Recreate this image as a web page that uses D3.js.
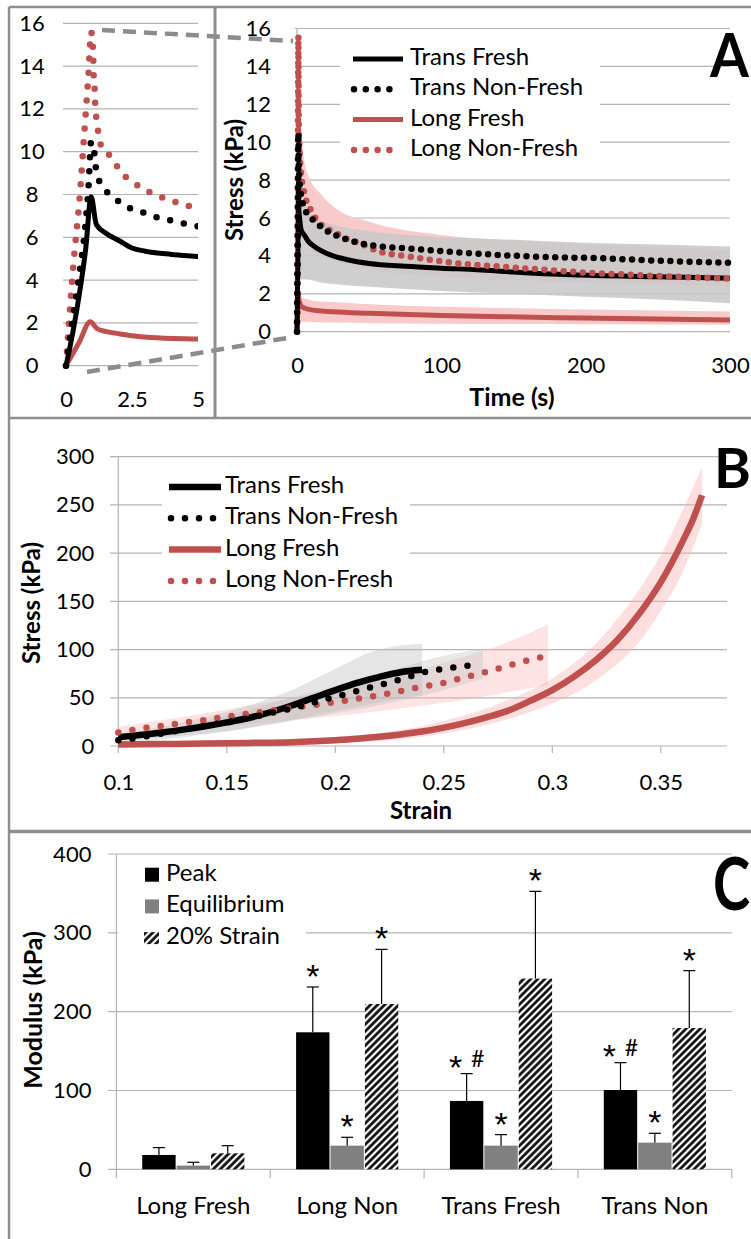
<!DOCTYPE html>
<html><head><meta charset="utf-8">
<script src="https://cdn.jsdelivr.net/npm/d3@7"></script>
<style>body{margin:0;background:#fff}svg{display:block}</style>
</head><body><svg id="c" width="751" height="1239"></svg>
<script>
// ---------------- DATA ----------------
// Panel A: stress relaxation, [time (s), stress (kPa)]
const transFreshA = [[0,0],[0.25,1.5],[0.5,3.3],[0.75,5.5],[0.95,7.9],[1.15,6.6],[1.5,6.2],[2,5.85],[2.5,5.5],[3,5.35],[4,5.2],[5,5.1],[8,4.75],[12,4.5],[16,4.3],[25,4.0],[35,3.8],[50,3.6],[75,3.45],[100,3.35],[125,3.27],[150,3.15],[190,3.0],[250,2.9],[300,2.82]];
const transNonFreshA = [[0,0],[0.27,2.3],[0.52,4.4],[0.73,6.5],[0.86,8.5],[0.95,10.47],[1.05,10.2],[1.11,9.45],[1.21,8.8],[1.5,8.2],[1.9,7.77],[2.36,7.4],[2.87,7.18],[3.37,6.96],[3.93,6.8],[4.44,6.65],[4.94,6.53],[8,6.15],[11.3,5.89],[18.2,5.45],[32,4.93],[50,4.58],[85,4.35],[120,4.14],[166,3.96],[212,3.87],[250,3.75],[300,3.63]];
const longFreshA = [[0,0],[0.5,1.1],[0.92,2.05],[1.17,1.74],[1.5,1.6],[1.93,1.51],[2.5,1.4],[3.19,1.32],[5,1.25],[10,1.15],[25,1.05],[50,0.97],[100,0.86],[143,0.79],[200,0.72],[250,0.67],[300,0.62]];
const longNonFreshA = [[0,0],[0.1,1.8],[0.3,5],[0.5,7.6],[0.7,11],[0.85,13.6],[0.95,15.6],[1.02,14.8],[1.05,13.5],[1.09,12.8],[1.11,12.1],[1.17,11.4],[1.24,10.75],[1.39,10.1],[1.75,9.72],[2.03,9.11],[2.45,8.66],[2.92,8.27],[3.4,7.98],[3.9,7.74],[4.42,7.55],[4.94,7.35],[10.2,6.33],[18.2,5.54],[25.2,5.28],[32.1,4.98],[43.7,4.66],[57.5,4.22],[78.3,3.96],[110.7,3.61],[143,3.43],[189,3.17],[235,2.99],[300,2.8]];
// Panel A standard-deviation bands
const bandTimeA = [1, 3, 7, 16, 27, 50, 100, 150, 200, 250, 300];
const transFreshUpperA = [9.5, 7.3, 6.5, 5.9, 5.6, 5.3, 5.0, 4.85, 4.7, 4.6, 4.5];
const transFreshLowerA = [3.0, 2.75, 2.75, 2.6, 2.5, 2.37, 2.15, 2.0, 1.85, 1.7, 1.5];
const longNonFreshUpperA = [16, 10.5, 8.4, 7.3, 6.5, 5.8, 5.1, 4.8, 4.6, 4.45, 4.3];
const longNonFreshLowerA = [9, 5.5, 4.6, 4.0, 3.7, 3.3, 2.9, 2.7, 2.6, 2.5, 2.4];
const longFreshUpperA = [2.0, 1.8, 1.7, 1.6, 1.55, 1.45, 1.32, 1.24, 1.17, 1.12, 1.07];
const longFreshLowerA = [0.5, 0.54, 0.52, 0.5, 0.48, 0.45, 0.42, 0.4, 0.39, 0.38, 0.37];
const yTicksA = [0, 2, 4, 6, 8, 10, 12, 14, 16];
const xTicksInset = [0, 2.5, 5];
const xTicksA = [0, 100, 200, 300];

// Panel B: stress-strain, [strain, stress (kPa)]
const transFreshB = [[0.10,9],[0.11,11.5],[0.12,14],[0.13,17],[0.14,20.5],[0.15,24.5],[0.16,29],[0.17,35],[0.18,42],[0.19,50],[0.20,58],[0.21,65.5],[0.22,71.5],[0.23,76.5],[0.24,79]];
const transNonFreshB = [[0.10,6],[0.11,9],[0.12,13],[0.13,17],[0.14,21],[0.15,25],[0.16,29],[0.17,34],[0.18,39],[0.19,45],[0.20,51],[0.21,57],[0.22,63],[0.23,69],[0.24,76],[0.25,80],[0.26,83],[0.265,85]];
const longFreshB = [[0.10,1.5],[0.12,2],[0.14,2.5],[0.16,3.2],[0.18,4],[0.20,6],[0.21,7.5],[0.22,9.5],[0.23,12],[0.24,15],[0.25,19],[0.26,24],[0.27,30],[0.28,37],[0.29,47],[0.30,58],[0.31,72],[0.32,89],[0.33,110],[0.34,137],[0.35,170],[0.36,212],[0.365,236],[0.369,260]];
const longNonFreshB = [[0.10,14],[0.11,18],[0.12,21],[0.13,24],[0.14,27],[0.15,30.5],[0.16,33.5],[0.17,36.5],[0.18,39.5],[0.19,42.5],[0.20,45.5],[0.21,49],[0.22,52.5],[0.23,57],[0.24,61.5],[0.25,65.5],[0.26,71.5],[0.27,77],[0.28,83.5],[0.29,89.5],[0.295,92]];
// Panel B bands: [strain, lower, upper]
const transFreshBandB = [[0.10,5,13],[0.12,9,20],[0.14,13,30],[0.16,19,42],[0.18,27,58],[0.20,36,80],[0.22,45,100],[0.24,53,106]];
const transNonFreshBandB = [[0.10,2,10],[0.14,12,26],[0.18,26,50],[0.20,34,62],[0.22,42,74],[0.24,52,88],[0.268,70,101]];
const longNonFreshBandB = [[0.10,8,20],[0.14,18,34],[0.18,27,50],[0.20,31,58],[0.22,36,68],[0.24,42,80],[0.26,48,93],[0.28,56,108],[0.298,63,126]];
const longFreshBandB = [[0.10,0.5,2.5],[0.15,1,5],[0.20,3,9],[0.25,13,26],[0.28,28,48],[0.30,44,70],[0.32,68,106],[0.34,108,162],[0.35,140,198],[0.36,180,244],[0.369,230,289]];
const xTicksB = [0.1, 0.15, 0.2, 0.25, 0.3, 0.35];
const yTicksB = [0, 50, 100, 150, 200, 250, 300];

// Panel C: moduli (kPa)
const groupsC = ["Long Fresh", "Long Non", "Trans Fresh", "Trans Non"];
const seriesC = ["Peak", "Equilibrium", "20% Strain"];
const peakMean = [18.2, 173.8, 86.7, 100.6];
const peakSD = [9.3, 57.5, 34.7, 34.7];
const eqMean = [4.7, 30, 30, 33.8];
const eqSD = [4.2, 10.6, 14, 11.9];
const strainMean = [20.3, 209.7, 241.9, 179.3];
const strainSD = [9.7, 69.3, 110.7, 72.7];
const peakSig = ["", "*", "* #", "* #"];
const eqSig = ["", "*", "*", "*"];
const strainSig = ["", "*", "*", "*"];
const yTicksC = [0, 100, 200, 300, 400];

// ---------------- STYLE ----------------
const FONT = "Lato, 'Liberation Sans', Arial, sans-serif";
const STARFONT = "'Liberation Sans', Arial, sans-serif";
const RED = "#c0504d";
const GRID = "#b4b4b4";
const BORDER = "#8e8e8e";

const svg = d3.select("#c");
const defs = svg.append("defs");
const pat = defs.append("pattern").attr("id","hatch").attr("patternUnits","userSpaceOnUse")
  .attr("width",5).attr("height",5).attr("patternTransform","rotate(45)");
pat.append("rect").attr("width",5).attr("height",5).attr("fill","#fff");
pat.append("line").attr("x1",2.5).attr("y1",0).attr("x2",2.5).attr("y2",5).attr("stroke","#000").attr("stroke-width",2.6);

function txt(g, x, y, s, size, opts={}) {
  return g.append("text").attr("x",x).attr("y",y).text(s)
    .attr("font-family",opts.font||FONT).attr("font-size",size)
    .attr("font-weight",opts.bold?"bold":"normal")
    .attr("text-anchor",opts.anchor||"start")
    .attr("dominant-baseline",opts.base||"auto")
    .attr("fill",opts.fill||"#000")
    .attr("transform",opts.rot?`rotate(-90,${x},${y})`:null);
}
function bigLetter(x, y, s, size, sy) {
  svg.append("text").attr("transform",`translate(${x},${y}) scale(1,${sy})`).text(s)
    .attr("font-family",FONT).attr("font-size",size).attr("font-weight","bold").attr("fill","#000");
}
function styleAxis(g, size) {
  g.select(".domain").remove();
  g.selectAll(".tick line").remove();
  g.attr("font-family",FONT).attr("font-size",size);
  g.selectAll("text").attr("fill","#000");
}

// ---------------- PANEL A (inset) ----------------
const xI = d3.scaleLinear().domain([0,5]).range([66,198]);
const yI = d3.scaleLinear().domain([0,16]).range([365.7,23.3]);
const gI = svg.append("g");
yTicksA.forEach(v => gI.append("line").attr("x1",63).attr("x2",198).attr("y1",yI(v)).attr("y2",yI(v)).attr("stroke",GRID).attr("stroke-width",1.2));
defs.append("clipPath").attr("id","clipI").append("rect").attr("x",60).attr("y",12).attr("width",138).attr("height",360);
const gIc = gI.append("g").attr("clip-path","url(#clipI)");
const lineI = d3.line().x(d=>xI(d[0])).y(d=>yI(d[1])).curve(d3.curveMonotoneX);
function drawSeries(g, line, data, color, dotted, w, gap) {
  g.append("path").attr("d",line(data)).attr("fill","none").attr("stroke",color)
   .attr("stroke-width",w).attr("stroke-linecap",dotted?"round":"butt").attr("stroke-linejoin","round")
   .attr("stroke-dasharray",dotted?`0 ${gap}`:null);
}
drawSeries(gIc, lineI, longFreshA, RED, false, 5);
drawSeries(gIc, lineI, longNonFreshA, RED, true, 6.5, 14);
drawSeries(gIc, lineI, transNonFreshA, "#000", true, 6.5, 14);
drawSeries(gIc, lineI, transFreshA, "#000", false, 5);
const axIy = gI.append("g").attr("transform","translate(66,0)").call(d3.axisLeft(yI).tickValues(yTicksA).tickSize(0));
styleAxis(axIy, 22);
axIy.selectAll("text").attr("text-anchor","middle").attr("x",-34);
const axIx = gI.append("g").attr("transform",`translate(0,${yI(0)})`).call(d3.axisBottom(xI).tickValues(xTicksInset).tickSize(0).tickPadding(26).tickFormat(d3.format("")));
styleAxis(axIx, 22);

// ---------------- PANEL A (main) ----------------
const xA = d3.scaleLinear().domain([0,300]).range([297,730]);
const yA = d3.scaleLinear().domain([0,16]).range([331.7,28.5]);
const gA = svg.append("g");
yTicksA.forEach(v => gA.append("line").attr("x1",295).attr("x2",730).attr("y1",yA(v)).attr("y2",yA(v)).attr("stroke",GRID).attr("stroke-width",1.2));
gA.append("line").attr("x1",297).attr("x2",297).attr("y1",yA(16)).attr("y2",yA(0)).attr("stroke",GRID).attr("stroke-width",1.2);
function bandA(upper, lower, color) {
  const pts = bandTimeA.map((t,i)=>[t, lower[i], upper[i]]);
  const area = d3.area().x(d=>xA(d[0])).y0(d=>yA(d[1])).y1(d=>yA(d[2])).curve(d3.curveMonotoneX);
  gA.append("path").attr("d",area(pts)).attr("fill",color);
}
bandA(longNonFreshUpperA, longNonFreshLowerA, "#f9caca");
bandA(transFreshUpperA, transFreshLowerA, "rgba(200,200,200,0.88)");
bandA(longFreshUpperA, longFreshLowerA, "#f9caca");
const lineA = d3.line().x(d=>xA(d[0])).y(d=>yA(d[1])).curve(d3.curveMonotoneX);
drawSeries(gA, lineA, longFreshA, RED, false, 5);
drawSeries(gA, lineA, transFreshA, "#000", false, 5);
drawSeries(gA, lineA, longNonFreshA, RED, true, 6.5, 9.6);
drawSeries(gA, lineA, transNonFreshA, "#000", true, 6.5, 9.6);
const axAy = gA.append("g").attr("transform","translate(297,0)").call(d3.axisLeft(yA).tickValues(yTicksA).tickSize(0).tickPadding(26));
styleAxis(axAy, 22);
const axAx = gA.append("g").attr("transform",`translate(0,${yA(0)})`).call(d3.axisBottom(xA).tickValues(xTicksA).tickSize(0).tickPadding(26));
styleAxis(axAx, 22);
txt(gA, 512, 400, "Time (s)", 25, {bold:true, anchor:"middle", base:"middle"});
txt(gA, 237, 180, "Stress (kPa)", 24, {bold:true, anchor:"middle", base:"middle", rot:true});
// legend A
gA.append("rect").attr("x",340).attr("y",40).attr("width",260).attr("height",125).attr("fill","#fff");
const legA = [["Trans Fresh","#000",false],["Trans Non-Fresh","#000",true],["Long Fresh",RED,false],["Long Non-Fresh",RED,true]];
legA.forEach((d,i)=>{
  const y = 59 + i*30.3;
  gA.append("line").attr("x1",d[2]?354:353).attr("x2",d[2]?401:403).attr("y1",y).attr("y2",y)
    .attr("stroke",d[1]).attr("stroke-width",d[2]?6.5:5).attr("stroke-linecap",d[2]?"round":"butt")
    .attr("stroke-dasharray",d[2]?"0 11.8":null);
  txt(gA, 410, y, d[0], 24, {base:"middle"});
});
bigLetter(710, 77, "A", 56, 1.09);
// connectors
svg.append("line").attr("x1",102).attr("y1",30).attr("x2",293).attr("y2",41).attr("stroke","#8c8c8c").attr("stroke-width",4.5).attr("stroke-dasharray","13 8");
svg.append("line").attr("x1",87).attr("y1",372).attr("x2",293).attr("y2",337).attr("stroke","#8c8c8c").attr("stroke-width",4.5).attr("stroke-dasharray","13 8");

// ---------------- PANEL B ----------------
const xB = d3.scaleLinear().domain([0.1,0.3805]).range([118.3,727]);
const yB = d3.scaleLinear().domain([0,300]).range([746,456.7]);
const gB = svg.append("g");
yTicksB.forEach(v => gB.append("line").attr("x1",110).attr("x2",727).attr("y1",yB(v)).attr("y2",yB(v)).attr("stroke",GRID).attr("stroke-width",1.2));
gB.append("line").attr("x1",xB(0.1)).attr("x2",xB(0.1)).attr("y1",yB(300)).attr("y2",yB(0)).attr("stroke",GRID).attr("stroke-width",1.2);
xTicksB.forEach(v => gB.append("line").attr("x1",xB(v)).attr("x2",xB(v)).attr("y1",yB(0)).attr("y2",yB(0)+7).attr("stroke",GRID).attr("stroke-width",1.2));
function bandB(pts, color) {
  const area = d3.area().x(d=>xB(d[0])).y0(d=>yB(d[1])).y1(d=>yB(d[2])).curve(d3.curveMonotoneX);
  gB.append("path").attr("d",area(pts)).attr("fill",color);
}
bandB(longFreshBandB, "rgba(250,175,175,0.4)");
bandB(longNonFreshBandB, "rgba(250,175,175,0.35)");
bandB(transNonFreshBandB, "rgba(190,190,190,0.35)");
bandB(transFreshBandB, "rgba(190,190,190,0.4)");
const lineB = d3.line().x(d=>xB(d[0])).y(d=>yB(d[1])).curve(d3.curveMonotoneX);
drawSeries(gB, lineB, longFreshB, RED, false, 6.5);
drawSeries(gB, lineB, transFreshB, "#000", false, 6.5);
drawSeries(gB, lineB, longNonFreshB, RED, true, 6.5, 14.3);
drawSeries(gB, lineB, transNonFreshB, "#000", true, 6.5, 14.3);
const axBy = gB.append("g").attr("transform",`translate(${xB(0.1)},0)`).call(d3.axisLeft(yB).tickValues(yTicksB).tickSize(0).tickPadding(24));
styleAxis(axBy, 22);
const axBx = gB.append("g").attr("transform",`translate(0,${yB(0)})`).call(d3.axisBottom(xB).tickValues(xTicksB).tickSize(0).tickPadding(28).tickFormat(d3.format("")));
styleAxis(axBx, 22);
txt(gB, 421, 813, "Strain", 24, {bold:true, anchor:"middle", base:"middle"});
txt(gB, 33.5, 603, "Stress (kPa)", 24, {bold:true, anchor:"middle", base:"middle", rot:true});
gB.append("rect").attr("x",162).attr("y",468).attr("width",248).attr("height",128).attr("fill","#fff");
legA.forEach((d,i)=>{
  const y = 487 + i*31.3;
  gB.append("line").attr("x1",d[2]?171:169).attr("x2",d[2]?215:221).attr("y1",y).attr("y2",y)
    .attr("stroke",d[1]).attr("stroke-width",6.5).attr("stroke-linecap",d[2]?"round":"butt")
    .attr("stroke-dasharray",d[2]?"0 14":null);
  txt(gB, 225, y, d[0], 24, {base:"middle"});
});
bigLetter(714, 488, "B", 56, 1.0);

// ---------------- PANEL C ----------------
const x0C = d3.scaleBand().domain(groupsC).range([116.4,731.8]);
const x1C = d3.scaleBand().domain(seriesC).range([x0C.bandwidth()*0.168, x0C.bandwidth()*0.832]).paddingInner(0.03);
const yC = d3.scaleLinear().domain([0,400]).range([1169.3,854]);
const gC = svg.append("g");
yTicksC.forEach(v => gC.append("line").attr("x1",108).attr("x2",731.8).attr("y1",yC(v)).attr("y2",yC(v)).attr("stroke",GRID).attr("stroke-width",1.2));
gC.append("line").attr("x1",116.4).attr("x2",116.4).attr("y1",yC(400)).attr("y2",yC(0)+9).attr("stroke",GRID).attr("stroke-width",1.2);
groupsC.forEach(g => {
  const x = x0C(g)+x0C.bandwidth();
  gC.append("line").attr("x1",x).attr("x2",x).attr("y1",yC(0)).attr("y2",yC(0)+9).attr("stroke",GRID).attr("stroke-width",1.2);
});
const seriesData = [
  {name:"Peak", mean:peakMean, sd:peakSD, sig:peakSig, fill:"#000"},
  {name:"Equilibrium", mean:eqMean, sd:eqSD, sig:eqSig, fill:"#808080"},
  {name:"20% Strain", mean:strainMean, sd:strainSD, sig:strainSig, fill:"url(#hatch)"}
];
seriesData.forEach(s => {
  groupsC.forEach((g,i) => {
    const x = x0C(g) + x1C(s.name);
    const w = x1C.bandwidth();
    gC.append("rect").attr("x",x).attr("y",yC(s.mean[i])).attr("width",w).attr("height",yC(0)-yC(s.mean[i])).attr("fill",s.fill);
    const cx = x + w/2, top = yC(s.mean[i]+s.sd[i]);
    gC.append("line").attr("x1",cx).attr("x2",cx).attr("y1",yC(s.mean[i])).attr("y2",top).attr("stroke","#000").attr("stroke-width",1.2);
    gC.append("line").attr("x1",cx-6).attr("x2",cx+6).attr("y1",top).attr("y2",top).attr("stroke","#000").attr("stroke-width",1.2);
    const sig = s.sig[i];
    if (sig === "*") {
      txt(gC, cx, top+1, "*", 34, {anchor:"middle", font:STARFONT});
    } else if (sig === "* #") {
      txt(gC, cx-11, top+5, "*", 34, {anchor:"middle", font:STARFONT});
      txt(gC, cx+11, top-7, "#", 23, {anchor:"middle"});
    }
  });
});
const axCy = gC.append("g").attr("transform","translate(116.4,0)").call(d3.axisLeft(yC).tickValues(yTicksC).tickSize(0).tickPadding(25));
styleAxis(axCy, 22);
const axCx = gC.append("g").attr("transform",`translate(0,${yC(0)})`).call(d3.axisBottom(x0C).tickSize(0).tickPadding(28));
styleAxis(axCx, 24);
txt(gC, 36, 1010, "Modulus (kPa)", 25, {bold:true, anchor:"middle", base:"middle", rot:true});
gC.append("rect").attr("x",118).attr("y",858).attr("width",188).attr("height",94).attr("fill","#fff");
seriesData.forEach((s,i) => {
  const y = 874.7 + i*31.7;
  if (i < 2) gC.append("rect").attr("x",145).attr("y",y-7).attr("width",14).attr("height",14).attr("fill",s.fill);
  else gC.append("rect").attr("x",144).attr("y",y-6).attr("width",15).attr("height",12).attr("fill","url(#hatch)");
  txt(gC, 166, y, s.name, 24, {base:"middle"});
});
bigLetter(713, 910, "C", 56, 1.3);

// ---------------- FRAMES ----------------
const fr = svg.append("g").attr("stroke",BORDER).attr("fill","none");
fr.append("line").attr("x1",9).attr("x2",751).attr("y1",7).attr("y2",7).attr("stroke-width",2.5);
fr.append("line").attr("x1",9).attr("x2",9).attr("y1",7).attr("y2",1239).attr("stroke-width",2.5);
fr.append("line").attr("x1",215).attr("x2",215).attr("y1",7).attr("y2",418).attr("stroke-width",3);
fr.append("line").attr("x1",9).attr("x2",751).attr("y1",418).attr("y2",418).attr("stroke-width",2.5);
fr.append("line").attr("x1",9).attr("x2",751).attr("y1",831.5).attr("y2",831.5).attr("stroke-width",3.5);
</script></body></html>
